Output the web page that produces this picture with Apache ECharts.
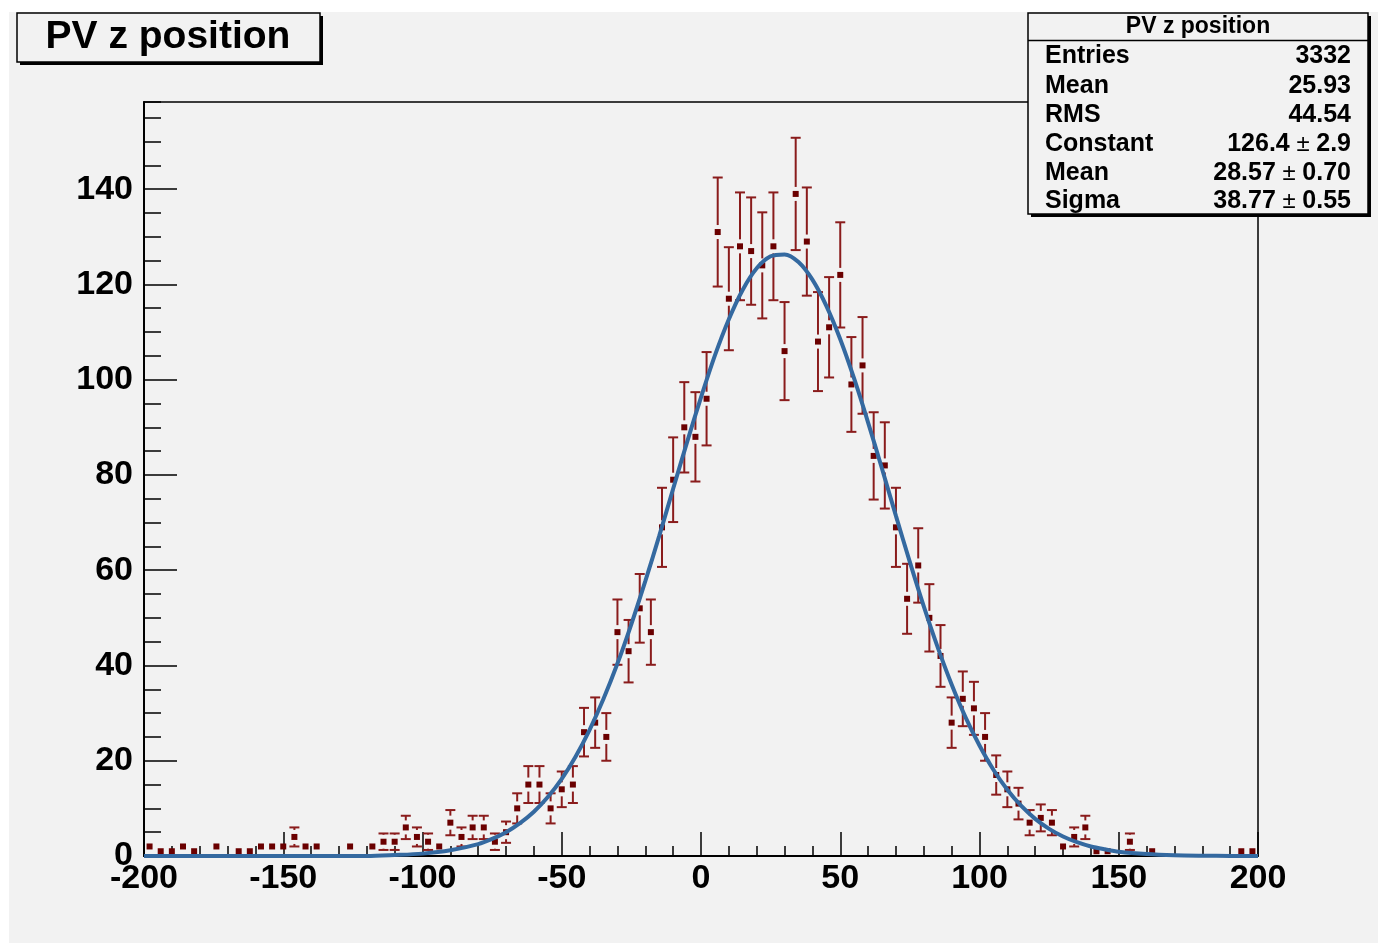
<!DOCTYPE html>
<html>
<head>
<meta charset="utf-8">
<script src="https://cdn.jsdelivr.net/npm/echarts@6/dist/echarts.min.js"></script>
<style>
html,body{margin:0;padding:0;background:#fff;}
#chart{width:1378px;height:945px;}
</style>
</head>
<body>
<div id="chart"></div>
<script>
// ---- data ----
const binCenters = [-198,-194,-190,-186,-182,-178,-174,-170,-166,-162,-158,-154,-150,-146,-142,-138,-134,-130,-126,-122,-118,-114,-110,-106,-102,-98,-94,-90,-86,-82,-78,-74,-70,-66,-62,-58,-54,-50,-46,-42,-38,-34,-30,-26,-22,-18,-14,-10,-6,-2,
  2,6,10,14,18,22,26,30,34,38,42,46,50,54,58,62,66,70,74,78,82,86,90,94,98,102,106,110,114,118,122,126,130,134,138,142,146,150,154,158,162,166,170,174,178,182,186,190,194,198];
const counts = [2,1,1,2,1,0,2,0,1,1,2,2,2,4,2,2,0,0,2,0,2,3,3,6,4,3,2,7,4,6,6,3,5,10,15,15,10,14,15,26,28,25,47,43,52,47,69,79,90,88,
  96,131,117,128,127,124,128,106,139,129,108,111,122,99,103,84,82,69,54,61,50,42,28,33,31,25,17,14,11,7,8,7,2,4,6,1,1,0,3,0,1,0,0,0,0,0,0,0,1,1];
const fitX = [-200,-190,-180,-170,-160,-150,-140,-130,-120,-110,-100,-90,-80,-75,-70,-65,-60,-55,-50,-45,-40,-35,-30,-25,-20,-15,-10,-5,0,5,10,15,20,25,30,35,40,45,50,55,60,65,70,75,80,85,90,95,100,105,110,115,120,125,130,135,140,145,150,160,170,180,190,200];
const fitY = [0,0,0,0,0,0,0,0,0,0.2,0.5,1.2,2.5,3.6,5.0,6.9,9.3,12.4,16.2,20.9,26.5,33.0,40.4,48.7,57.7,67.2,77.1,86.9,96.3,105.1,112.7,118.9,123.4,125.9,126.3,124.7,121.0,115.5,108.5,100.2,91.0,81.3,71.4,61.7,52.4,43.8,36.0,29.1,23.2,18.1,13.9,10.5,7.8,5.7,4.1,2.9,2.0,1.4,0.9,0.4,0.15,0.06,0.02,0];
const xTickLabels = ['-200','-150','-100','-50','0','50','100','150','200'];
const yTickLabels = ['0','20','40','60','80','100','120','140'];
const histTitle = 'PV z position';
const statRows = [
  ['Entries', '3332', null],
  ['Mean', '25.93', null],
  ['RMS', '44.54', null],
  ['Constant', '126.4', '2.9'],
  ['Mean', '28.57', '0.70'],
  ['Sigma', '38.77', '0.55']
];

// ---- build ----
const histData = [];
for (let i = 0; i < binCenters.length; i++) {
  if (counts[i] > 0) histData.push([binCenters[i], counts[i]]);
}
const fitData = fitX.map((x, i) => [x, fitY[i]]);

const FONT = '"Liberation Sans", Arial, Helvetica, sans-serif';
const BAR = '#8a1c1c', MARK = '#6a0000';

function renderErr(params, api) {
  const x = api.value(0), y = api.value(1);
  const e = Math.sqrt(y);
  const c = api.coord([x, y]);
  const top = api.coord([x, y + e])[1];
  const bot = api.coord([x, Math.max(0, y - e)])[1];
  const gap = 7, cap = 5;
  const ch = [];
  const ls = {stroke: BAR, lineWidth: 2};
  if (c[1] - top > gap) {
    ch.push({type: 'line', shape: {x1: c[0], y1: top, x2: c[0], y2: c[1] - gap}, style: ls});
    ch.push({type: 'line', shape: {x1: c[0] - cap, y1: top, x2: c[0] + cap, y2: top}, style: ls});
  }
  if (bot - c[1] > gap) {
    ch.push({type: 'line', shape: {x1: c[0], y1: c[1] + gap, x2: c[0], y2: bot}, style: ls});
    ch.push({type: 'line', shape: {x1: c[0] - cap, y1: bot, x2: c[0] + cap, y2: bot}, style: ls});
  }
  ch.push({type: 'rect', shape: {x: c[0] - 3, y: c[1] - 3, width: 6, height: 6}, style: {fill: MARK}});
  return {type: 'group', children: ch};
}

const statEls = [];
const rowY = [56, 86, 115, 144, 173, 201];
statRows.forEach((r, i) => {
  statEls.push({type: 'text', x: 1045, y: rowY[i], z: 101,
    style: {text: r[0], align: 'left', verticalAlign: 'middle', font: 'bold 25px ' + FONT, fill: '#000'}});
  let txt;
  if (r[2] === null) {
    txt = '{b|' + r[1] + '}';
  } else {
    txt = '{b|' + r[1] + '}{p| \u00b1 }{b|' + r[2] + '}';
  }
  statEls.push({type: 'text', x: 1351, y: rowY[i], z: 101,
    style: {text: txt, align: 'right', verticalAlign: 'middle',
      rich: {b: {font: 'bold 25px ' + FONT, fill: '#000'}, p: {font: '24px ' + FONT, fill: '#000'}}}});
});

const chart = echarts.init(document.getElementById('chart'), null, {renderer: 'canvas'});
chart.setOption({
  animation: false,
  backgroundColor: '#f2f2f2',
  grid: {left: 144, right: 120, top: 102, bottom: 89, show: true, borderColor: '#000', borderWidth: 1.5, backgroundColor: 'transparent'},
  xAxis: {
    type: 'value', min: -200, max: 200, interval: 50,
    axisLine: {show: true, onZero: false, lineStyle: {color: '#000', width: 2}},
    axisTick: {show: true, inside: true, length: 24, lineStyle: {color: '#000', width: 1.5}},
    minorTick: {show: true, splitNumber: 5, length: 10, lineStyle: {color: '#000', width: 1.5}},
    splitLine: {show: false},
    axisLabel: {color: '#000', fontFamily: FONT, fontWeight: 'bold', fontSize: 34, margin: 6,
      formatter: v => { const s = String(v); return xTickLabels.indexOf(s) >= 0 ? s : ''; }}
  },
  yAxis: [{
    type: 'value', min: 0, max: 158.3, interval: 20,
    axisLine: {show: true, onZero: false, lineStyle: {color: '#000', width: 2}},
    axisTick: {show: true, inside: true, length: 33, lineStyle: {color: '#000', width: 1.5}},
    splitLine: {show: false},
    axisLabel: {color: '#000', fontFamily: FONT, fontWeight: 'bold', fontSize: 34, margin: 11, showMaxLabel: false,
      formatter: v => { const s = String(v); return yTickLabels.indexOf(s) >= 0 ? s : ''; }}
  }, {
    type: 'value', min: 0, max: 158.3, interval: 5, position: 'left', offset: 0,
    axisLine: {show: false, onZero: false},
    axisTick: {show: true, inside: true, length: 17, lineStyle: {color: '#000', width: 1.5}},
    splitLine: {show: false},
    axisLabel: {show: false}
  }],
  series: [{
    type: 'custom', renderItem: renderErr, data: histData, z: 2, clip: true,
    encode: {x: 0, y: 1}
  }, {
    type: 'line', data: fitData, smooth: 0.3, showSymbol: false, z: 3,
    lineStyle: {color: '#3469a0', width: 4}
  }],
  graphic: [
    {type: 'rect', shape: {x: 0, y: 0, width: 1378, height: 12}, style: {fill: '#fff'}, z: 100},
    {type: 'rect', shape: {x: 0, y: 0, width: 9, height: 945}, style: {fill: '#fff'}, z: 100},
    {type: 'rect', shape: {x: 0, y: 943, width: 1378, height: 2}, style: {fill: '#fff'}, z: 100},
    // title pave
    {type: 'rect', shape: {x: 20, y: 16, width: 303, height: 49}, style: {fill: '#000'}, z: 100},
    {type: 'rect', shape: {x: 17, y: 13, width: 303, height: 49}, style: {fill: '#f2f2f2', stroke: '#000', lineWidth: 1.5}, z: 101},
    {type: 'text', x: 168, y: 37, z: 102, style: {text: histTitle, align: 'center', verticalAlign: 'middle', font: 'bold 39px ' + FONT, fill: '#000'}},
    // stats box
    {type: 'rect', shape: {x: 1031, y: 16, width: 340, height: 201}, style: {fill: '#000'}, z: 100},
    {type: 'rect', shape: {x: 1028, y: 13, width: 340, height: 201}, style: {fill: '#f2f2f2', stroke: '#000', lineWidth: 1.5}, z: 100},
    {type: 'line', shape: {x1: 1028, y1: 40.5, x2: 1368, y2: 40.5}, style: {stroke: '#000', lineWidth: 1.5}, z: 101},
    {type: 'text', x: 1198, y: 27, z: 101, style: {text: histTitle, align: 'center', verticalAlign: 'middle', font: 'bold 23px ' + FONT, fill: '#000'}}
  ].concat(statEls)
});
</script>
</body>
</html>
